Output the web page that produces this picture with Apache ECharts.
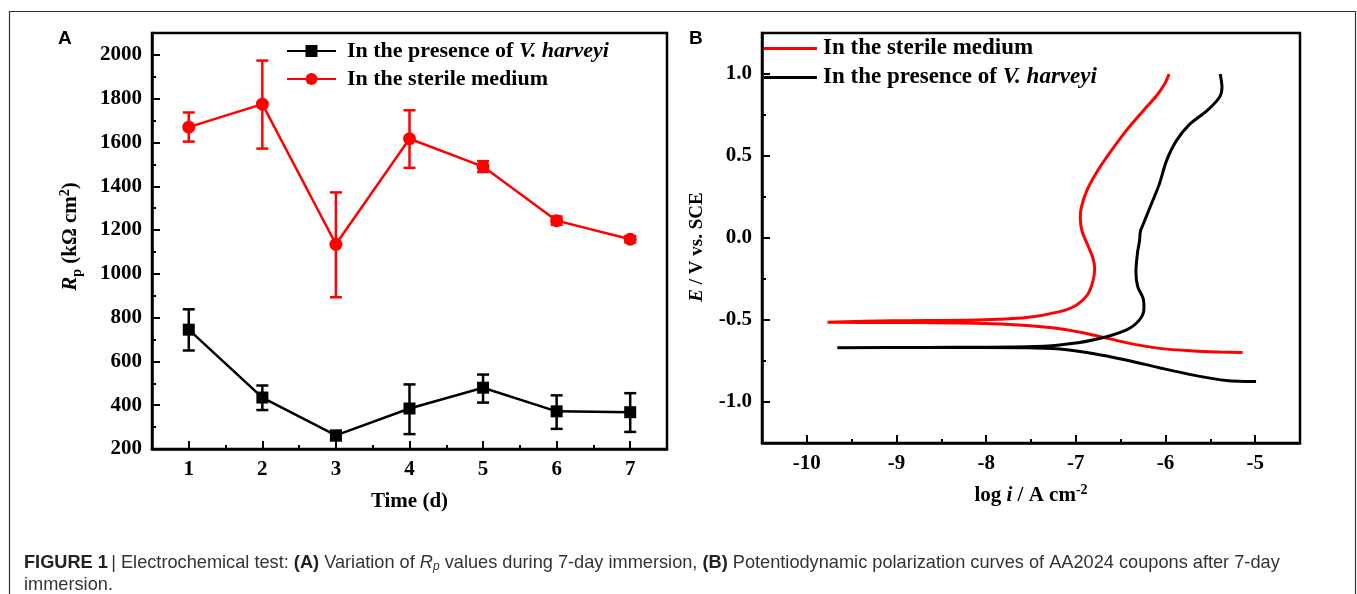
<!DOCTYPE html>
<html>
<head>
<meta charset="utf-8">
<script src="https://cdn.jsdelivr.net/npm/echarts@6/dist/echarts.min.js"></script>
<style>html,body{margin:0;padding:0;background:#fff}#c{width:1357px;height:594px}</style>
</head>
<body>
<div id="c"></div>
<script>
// ---------- Panel A data: Rp (kΩ cm²) vs time (d) ----------
const days = [1, 2, 3, 4, 5, 6, 7];
const vhMean = [745, 435, 262, 385, 480, 372, 368];
const vhLow  = [650, 378, 240, 268, 412, 292, 278];
const vhHigh = [838, 490, 282, 495, 540, 445, 455];
const sterMean = [1670, 1775, 1135, 1617, 1490, 1243, 1158];
const sterLow  = [1604, 1572, 893, 1484, 1465, 1224, 1144];
const sterHigh = [1737, 1974, 1372, 1747, 1515, 1262, 1172];
const dayMinorTicks = [1.5, 2.5, 3.5, 4.5, 5.5, 6.5];
const rpTicks = [200, 400, 600, 800, 1000, 1200, 1400, 1600, 1800, 2000];
const rpMinorTicks = [300, 500, 700, 900, 1100, 1300, 1500, 1700, 1900];

// ---------- Panel B data: polarization curves (log i, E) ----------
const sterLogI = [-5.14, -5.40, -5.69, -6.07, -6.44, -6.81, -7.18, -7.55, -8.11, -9.00, -9.77,
  -9.04, -8.11, -7.55, -7.18, -6.99, -6.87, -6.81, -6.79, -6.81, -6.87, -6.93, -6.95, -6.94,
  -6.88, -6.77, -6.62, -6.44, -6.25, -6.10, -6.01, -5.96];
const sterE = [-0.698, -0.695, -0.689, -0.673, -0.638, -0.591, -0.554, -0.534, -0.520, -0.515, -0.514,
  -0.505, -0.500, -0.485, -0.449, -0.408, -0.346, -0.265, -0.184, -0.122, -0.040, 0.041, 0.122, 0.184,
  0.286, 0.398, 0.520, 0.653, 0.775, 0.867, 0.939, 1.000];
const vhLogI = [-4.99, -5.32, -5.69, -6.07, -6.44, -6.81, -7.18, -7.55, -8.60, -9.66,
  -8.67, -7.55, -7.18, -6.81, -6.44, -6.29, -6.24, -6.25, -6.31, -6.33, -6.31, -6.29, -6.28,
  -6.25, -6.16, -6.07, -5.99, -5.88, -5.73, -5.54, -5.40, -5.37, -5.39];
const vhE = [-0.875, -0.869, -0.836, -0.791, -0.744, -0.704, -0.677, -0.669, -0.668, -0.669,
  -0.667, -0.663, -0.652, -0.622, -0.561, -0.499, -0.428, -0.367, -0.296, -0.204, -0.081, -0.020, 0.041,
  0.082, 0.204, 0.327, 0.469, 0.592, 0.694, 0.775, 0.857, 0.918, 1.000];
const logITicks = [-10, -9, -8, -7, -6, -5];
const logIMinorTicks = [-9.5, -8.5, -7.5, -6.5, -5.5];
const eTicks = [-1.0, -0.5, 0.0, 0.5, 1.0];
const eMinorTicks = [-0.75, -0.25, 0.25, 0.75];

const RED = '#ff0000', BLACK = '#000000';
const SERIF = '"Liberation Serif","Times New Roman",serif';
const SANS = '"Liberation Sans",Arial,sans-serif';
const FS = 21;

function makeRich(fs) {
  return {
    b: {fontFamily: SERIF, fontWeight: 'bold', fontSize: fs, color: '#000', lineHeight: 26},
    i: {fontFamily: SERIF, fontWeight: 'bold', fontStyle: 'italic', fontSize: fs, color: '#000', lineHeight: 26},
    sup: {fontFamily: SERIF, fontWeight: 'bold', fontSize: 14, color: '#000', lineHeight: 14, verticalAlign: 'top'},
    sub: {fontFamily: SERIF, fontWeight: 'bold', fontSize: 14, color: '#000', lineHeight: 14, verticalAlign: 'bottom'}
  };
}
const rich = makeRich(FS);
function legRich(fs) {
  return {
    b: {fontFamily: SERIF, fontWeight: 'bold', fontSize: fs, color: '#000', lineHeight: 24},
    i: {fontFamily: SERIF, fontWeight: 'bold', fontStyle: 'italic', fontSize: fs, color: '#000', lineHeight: 24}
  };
}
const legText = {
  A_vh: '{b|In the presence of }{i|V. harveyi}',
  A_st: '{b|In the sterile medium}',
  B_vh: '{b|In the presence of }{i|V. harveyi}',
  B_st: '{b|In the sterile medium}'
};

function zip(a, b) { return a.map((v, k) => [v, b[k]]); }
function errData(lo, hi) { return days.map((d, k) => [d, lo[k], hi[k]]); }
function errRender(params, api) {
  const x = api.value(0), lo = api.value(1), hi = api.value(2);
  const p1 = api.coord([x, hi]), p2 = api.coord([x, lo]);
  const hw = 6;
  const style = {stroke: api.visual('color'), lineWidth: 2.5};
  return {type: 'group', children: [
    {type: 'line', shape: {x1: p1[0], y1: p1[1], x2: p2[0], y2: p2[1]}, style: style},
    {type: 'line', shape: {x1: p1[0] - hw, y1: p1[1], x2: p1[0] + hw, y2: p1[1]}, style: style},
    {type: 'line', shape: {x1: p2[0] - hw, y1: p2[1], x2: p2[0] + hw, y2: p2[1]}, style: style}
  ]};
}

const labelStyle = {fontFamily: SERIF, fontWeight: 'bold', fontSize: FS, color: '#000'};
function mainAxis(grid, pos, min, max, ticks, fmt, extra) {
  return Object.assign({
    type: 'value', gridIndex: grid, position: pos, min: min, max: max,
    axisLine: {show: true, onZero: false, lineStyle: {color: '#000', width: 2.5}},
    axisTick: {show: true, inside: true, length: 8, customValues: ticks, lineStyle: {color: '#000', width: 2}},
    axisLabel: Object.assign({show: true, customValues: ticks, margin: 10, formatter: fmt}, labelStyle),
    splitLine: {show: false}
  }, extra || {});
}
function minorAxis(grid, pos, min, max, ticks) {
  return {
    type: 'value', gridIndex: grid, position: pos, min: min, max: max,
    axisLine: {show: false, onZero: false},
    axisTick: {show: true, inside: true, length: 4, customValues: ticks, lineStyle: {color: '#000', width: 2}},
    axisLabel: {show: false},
    splitLine: {show: false}
  };
}

const gridA = {left: 152, top: 33, width: 515, height: 416};
const gridB = {left: 762, top: 33, width: 538, height: 410};

const chart = echarts.init(document.getElementById('c'), null, {renderer: 'canvas'});
chart.setOption({
  backgroundColor: '#ffffff',
  animation: false,
  grid: [
    Object.assign({show: true, borderColor: '#000', borderWidth: 2.5, backgroundColor: 'transparent'}, gridA),
    Object.assign({show: false}, gridA),
    Object.assign({show: true, borderColor: '#000', borderWidth: 2.5, backgroundColor: 'transparent'}, gridB),
    Object.assign({show: false}, gridB)
  ],
  xAxis: [
    mainAxis(0, 'bottom', 0.5, 7.5, days, v => String(v), {
      name: '{b|Time (d)}', nameLocation: 'middle', nameGap: 40,
      nameTextStyle: {rich: rich}
    }),
    minorAxis(1, 'bottom', 0.5, 7.5, dayMinorTicks),
    mainAxis(2, 'bottom', -10.5, -4.5, logITicks, v => String(v), {
      name: '{b|log }{i|i}{b| / A cm}{sup|-2}', nameLocation: 'middle', nameGap: 40,
      nameTextStyle: {rich: rich}
    }),
    minorAxis(3, 'bottom', -10.5, -4.5, logIMinorTicks)
  ],
  yAxis: [
    mainAxis(0, 'left', 200, 2100, rpTicks, v => String(v), {
      name: '{i|R}{sub|p}{b| (kΩ cm}{sup|2}{b|)}', nameLocation: 'middle', nameGap: 68,
      nameTextStyle: {rich: rich, padding: [0, 0, 0, 9]}
    }),
    minorAxis(1, 'left', 200, 2100, rpMinorTicks),
    mainAxis(2, 'left', -1.25, 1.25, eTicks, v => v.toFixed(1), {
      name: '{i|E}{b| / V vs. SCE}', nameLocation: 'middle', nameGap: 52,
      nameTextStyle: {rich: makeRich(19), padding: [0, 18, 0, 0]}
    }),
    minorAxis(3, 'left', -1.25, 1.25, eMinorTicks)
  ],
  legend: [
    {
      data: ['A_vh', 'A_st'], orient: 'vertical', left: 286, top: 40, padding: 0,
      itemWidth: 49, itemHeight: 15, itemGap: 6,
      formatter: n => legText[n],
      textStyle: {rich: legRich(22), padding: [0, 0, 0, 6]},
      selectedMode: false
    },
    {
      data: ['B_st', 'B_vh'], orient: 'vertical', left: 764, top: 37, padding: 0,
      icon: 'rect', itemWidth: 53, itemHeight: 3, itemGap: 6,
      formatter: n => legText[n],
      textStyle: {rich: legRich(23), padding: [0, 0, 0, 1]},
      selectedMode: false
    }
  ],
  graphic: [
    {type: 'polyline', shape: {points: [[9.5, 600], [9.5, 11.5], [1355.5, 11.5], [1355.5, 600]]},
     style: {stroke: '#333', lineWidth: 1.2, fill: null}, silent: true},
    {type: 'text', left: 58, top: 29, style: {text: 'A', font: 'bold 19px ' + SANS, fill: '#000'}},
    {type: 'text', left: 689, top: 29, style: {text: 'B', font: 'bold 19px ' + SANS, fill: '#000'}},
    {type: 'text', left: 24, top: 554, style: {
      text: '{fb|FIGURE 1} {bar|| }{n|Electrochemical test: }{fb|(A)}{n| Variation of }{it|R}{sub|p}{n| values during 7-day immersion, }{fb|(B)}{n| Potentiodynamic polarization curves of AA2024 coupons after 7-day}',
      rich: {
        fb: {fontFamily: SANS, fontWeight: 'bold', fontSize: 18.2, fill: '#222', lineHeight: 20},
        n: {fontFamily: SANS, fontSize: 18.2, fill: '#333', lineHeight: 20},
        bar: {fontFamily: SANS, fontSize: 18.2, fill: '#333', lineHeight: 20},
        it: {fontFamily: SANS, fontStyle: 'italic', fontSize: 18.2, fill: '#333', lineHeight: 20},
        sub: {fontFamily: SANS, fontStyle: 'italic', fontSize: 12, fill: '#333', lineHeight: 12, verticalAlign: 'bottom'}
      }
    }},
    {type: 'text', left: 24, top: 576, style: {text: 'immersion.', font: '18.2px ' + SANS, fill: '#333'}}
  ],
  series: [
    {name: 'A_vh_err', type: 'custom', xAxisIndex: 0, yAxisIndex: 0, renderItem: errRender,
     data: errData(vhLow, vhHigh), encode: {x: 0, y: [1, 2]}, itemStyle: {color: BLACK}, z: 2, silent: true},
    {name: 'A_st_err', type: 'custom', xAxisIndex: 0, yAxisIndex: 0, renderItem: errRender,
     data: errData(sterLow, sterHigh), encode: {x: 0, y: [1, 2]}, itemStyle: {color: RED}, z: 2, silent: true},
    {name: 'A_vh', type: 'line', xAxisIndex: 0, yAxisIndex: 0, data: zip(days, vhMean),
     symbol: 'rect', symbolSize: 12, showSymbol: true, color: BLACK,
     lineStyle: {color: BLACK, width: 2.5}, itemStyle: {color: BLACK}, z: 3},
    {name: 'A_st', type: 'line', xAxisIndex: 0, yAxisIndex: 0, data: zip(days, sterMean),
     symbol: 'circle', symbolSize: 13, showSymbol: true, color: RED,
     lineStyle: {color: RED, width: 2.5}, itemStyle: {color: RED}, z: 3},
    {name: 'B_st', type: 'line', xAxisIndex: 2, yAxisIndex: 2, data: zip(sterLogI, sterE),
     symbol: 'none', smooth: 0.3, color: RED, lineStyle: {color: RED, width: 3}, z: 3},
    {name: 'B_vh', type: 'line', xAxisIndex: 2, yAxisIndex: 2, data: zip(vhLogI, vhE),
     symbol: 'none', smooth: 0.3, color: BLACK, lineStyle: {color: BLACK, width: 3}, z: 3}
  ]
});
</script>
</body>
</html>
